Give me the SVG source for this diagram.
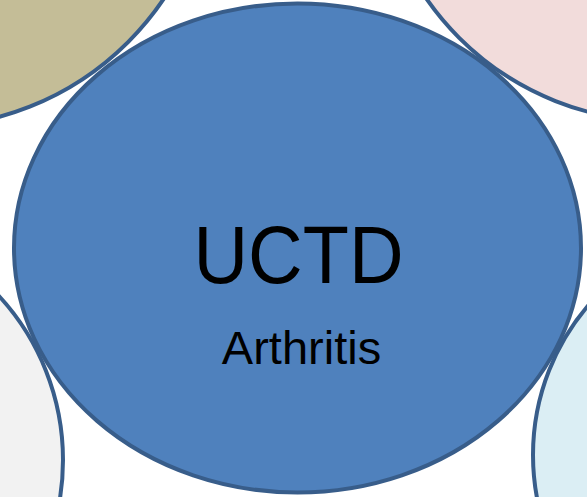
<svg xmlns="http://www.w3.org/2000/svg" width="587" height="497" viewBox="0 0 587 497">
<style>
.node{stroke:#385d8a;stroke-width:4}
.lbl{font-family:"Liberation Sans",Arial,sans-serif;fill:#000;text-anchor:middle}
</style>
<rect width="587" height="497" fill="#fff"/>
<g id="node-olive"><circle class="node" cx="-77" cy="-163" r="290" fill="#c4bd97"/></g>
<g id="node-pink"><circle class="node" cx="660" cy="-163" r="284" fill="#f2dcdb"/></g>
<g id="node-gray"><circle class="node" cx="-179" cy="460" r="242" fill="#f2f2f2"/></g>
<g id="node-aqua"><circle class="node" cx="763" cy="455" r="230" fill="#dbeef4"/></g>
<g id="node-uctd">
<ellipse class="node" cx="297.5" cy="248" rx="283.5" ry="244.5" fill="#4f81bd"/>
<text class="lbl" x="298.5" y="282.5" font-size="82" textLength="210" lengthAdjust="spacingAndGlyphs">UCTD</text>
<text class="lbl" x="301.5" y="363.5" font-size="47">Arthritis</text>
</g>
<g id="connectors"/>
</svg>
